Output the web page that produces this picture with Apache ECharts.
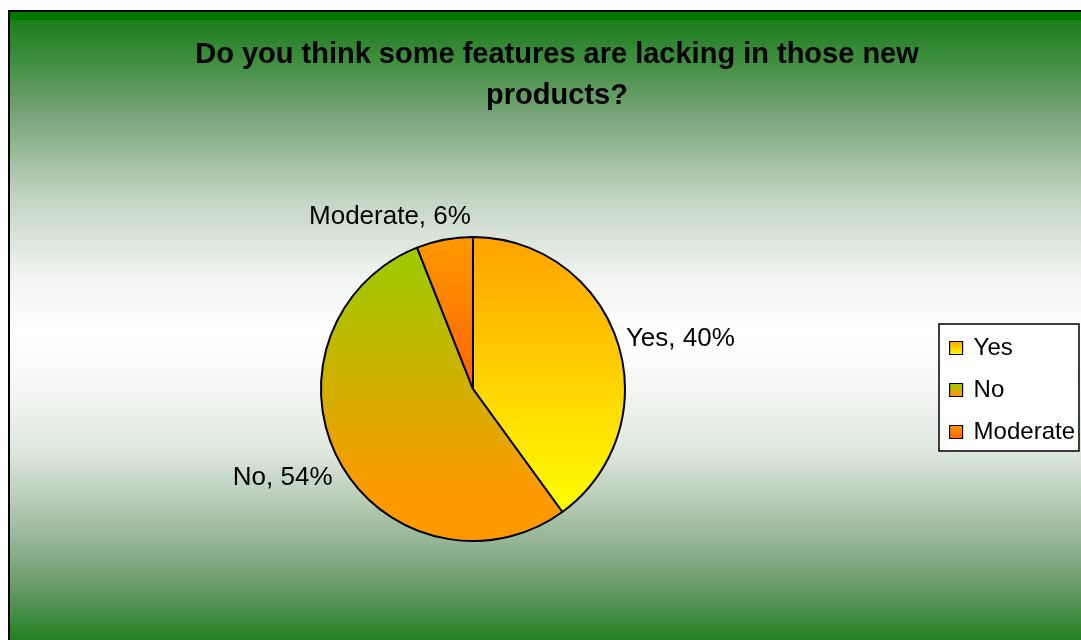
<!DOCTYPE html>
<html>
<head>
<meta charset="utf-8">
<script src="https://cdn.jsdelivr.net/npm/echarts@6/dist/echarts.min.js"></script>
<style>
  html, body { margin: 0; padding: 0; background: #ffffff; }
  #chart { width: 1081px; height: 640px; }
</style>
</head>
<body>
<div id="chart"></div>
<script>
// Survey answers
const categories = ['Yes', 'No', 'Moderate'];
const shares = [40, 54, 6];
const titleText = 'Do you think some features are lacking in those new\nproducts?';

// Vertical two-tone fills for each slice (top colour, bottom colour)
const sliceFills = [
  [[0, '#FFA200'], [1, '#FFFF00']],
  [[0, '#99CC00'], [0.85, '#FF9900'], [1, '#FF9900']],
  [[0, '#FF9900'], [1, '#FF6400']]
];

// Small shifts that pull each outside label closer to its slice
const labelNudge = [[-10, 1], [10, 9], [34, -9]];

function vGrad(stops) {
  return {
    type: 'linear', x: 0, y: 0, x2: 0, y2: 1,
    colorStops: stops.map(s => ({ offset: s[0], color: s[1] }))
  };
}

const data = categories.map((name, i) => ({
  name: name,
  value: shares[i],
  itemStyle: { color: vGrad(sliceFills[i]) }
}));

const chart = echarts.init(document.getElementById('chart'), null, { renderer: 'canvas' });

chart.setOption({
  animation: false,
  graphic: [
    {
      type: 'rect',
      z: -10,
      shape: { x: 9, y: 11, width: 1100, height: 642 },
      style: {
        stroke: '#000000',
        lineWidth: 2,
        fill: vGrad([
          [0, '#007800'], [0.015, '#007800'], [0.017, '#1e7e1e'],
          [0.078, '#3f8e3f'], [0.156, '#74a274'], [0.296, '#c4d6c4'],
          [0.42, '#f2f5f2'], [0.5, '#ffffff'], [0.58, '#f6f8f6'],
          [0.686, '#dde7dd'], [0.79, '#a8c2a8'], [0.85, '#87ab87'],
          [0.92, '#549254'], [0.98, '#217f21'], [1, '#1a7c1a']
        ])
      }
    },
    {
      type: 'text',
      z: 10,
      style: {
        text: titleText,
        x: 557,
        y: 34,
        align: 'center',
        verticalAlign: 'top',
        fontFamily: '"Liberation Sans", Arial, sans-serif',
        fontWeight: 'bold',
        fontSize: 29,
        lineHeight: 41,
        fill: '#000000'
      }
    }
  ],
  legend: {
    orient: 'vertical',
    left: 939,
    top: 324,
    data: categories,
    icon: 'rect',
    itemWidth: 13,
    itemHeight: 13,
    itemGap: 18,
    padding: [12, 4, 7, 10],
    backgroundColor: '#ffffff',
    borderColor: '#000000',
    borderWidth: 1.5,
    itemStyle: { borderColor: '#000000', borderWidth: 1.2 },
    textStyle: {
      fontFamily: '"Liberation Sans", Arial, sans-serif',
      fontSize: 24,
      color: '#000000',
      padding: [0, 0, 0, 6]
    }
  },
  series: [
    {
      type: 'pie',
      center: [473, 389],
      radius: 152,
      startAngle: 90,
      clockwise: true,
      percentPrecision: 0,
      data: data,
      itemStyle: { borderColor: '#000000', borderWidth: 2 },
      emphasis: { disabled: true },
      label: {
        show: true,
        position: 'outside',
        formatter: '{b}, {d}%',
        fontFamily: '"Liberation Sans", Arial, sans-serif',
        fontSize: 26,
        color: '#000000'
      },
      labelLine: { show: false, length: 14, length2: 0 },
      labelLayout: function (params) {
        const n = labelNudge[params.dataIndex] || [0, 0];
        return { dx: n[0], dy: n[1] };
      }
    }
  ]
});
</script>
</body>
</html>
